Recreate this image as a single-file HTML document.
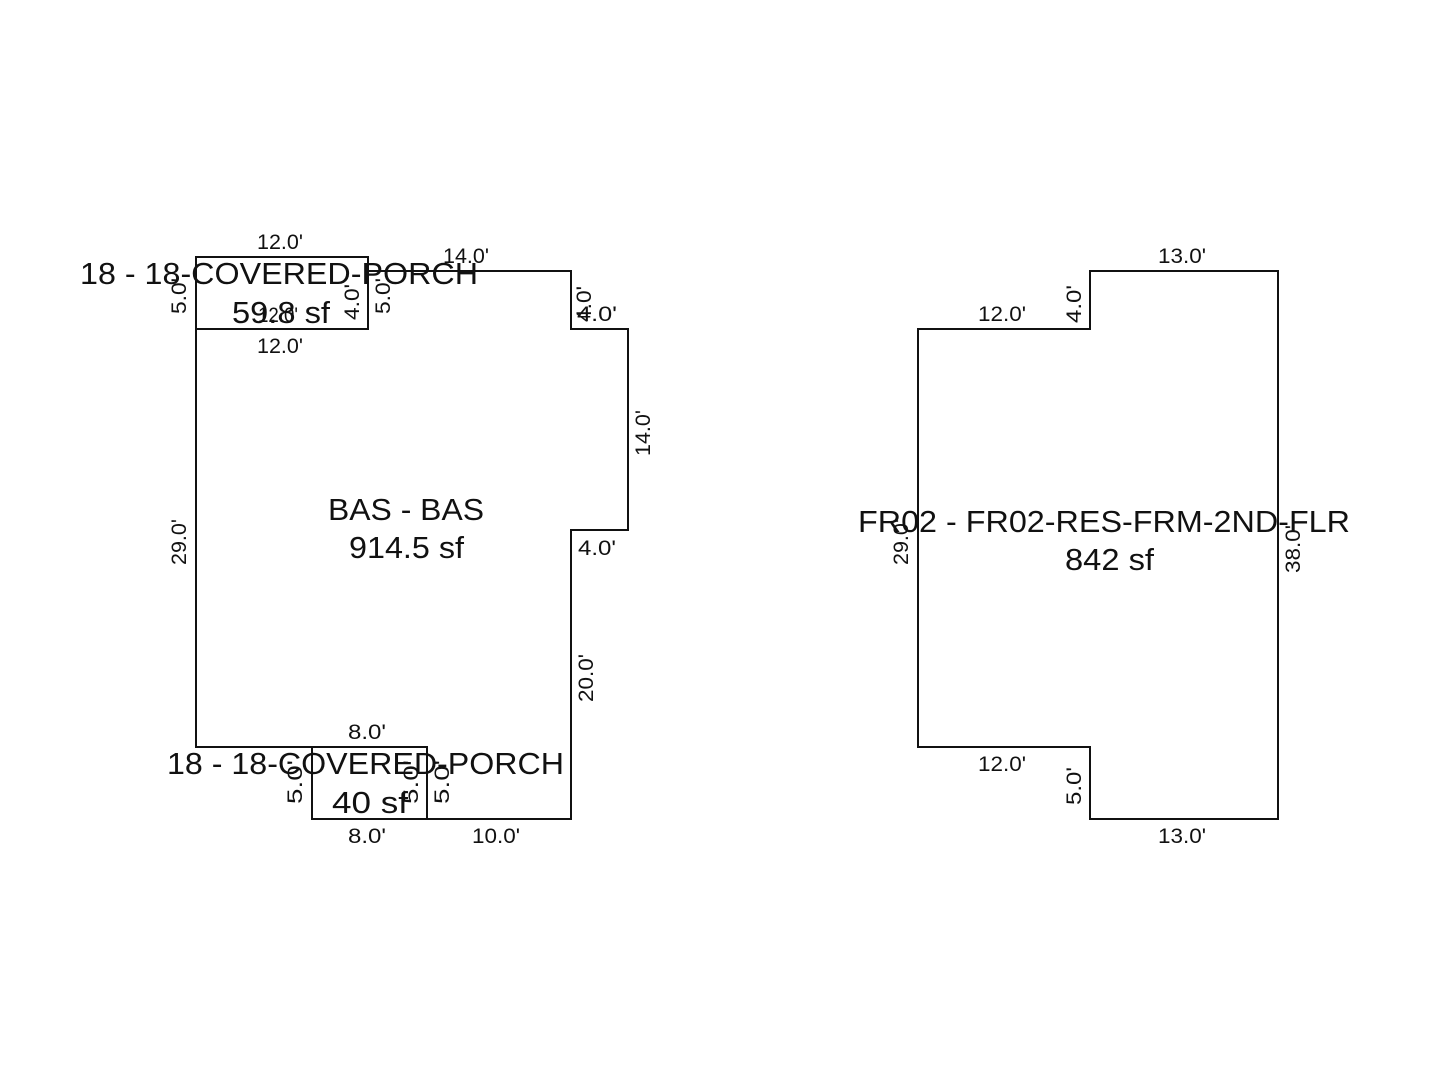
<!DOCTYPE html>
<html><head><meta charset="utf-8"><style>
html,body{margin:0;padding:0;background:#fff;}
svg{display:block;font-family:"Liberation Sans",Arial,sans-serif;fill:#111;}
.d{font-size:21px;}
.m{font-size:31px;}
</style></head><body>
<svg width="1440" height="1080" viewBox="0 0 1440 1080">
<g fill="none" stroke="#111" stroke-width="2">
<polyline points="368,271 571,271 571,329 628,329 628,530 571,530 571,819 427,819"/>
<polyline points="196,329 196,747 427,747"/>
<rect x="196" y="257" width="172" height="72"/>
<rect x="312" y="747" width="115" height="72"/>
<polygon points="918,329 1090,329 1090,271 1278,271 1278,819 1090,819 1090,747 918,747"/>
</g>
<g class="d" lengthAdjust="spacingAndGlyphs">
<text lengthAdjust="spacingAndGlyphs" x="257" y="249" textLength="46">12.0'</text>
<text lengthAdjust="spacingAndGlyphs" x="443" y="263" textLength="46">14.0'</text>
<text lengthAdjust="spacingAndGlyphs" x="257" y="353" textLength="46">12.0'</text>
<text lengthAdjust="spacingAndGlyphs" x="258" y="322" textLength="40">12.0'</text>
<text lengthAdjust="spacingAndGlyphs" x="577" y="321" textLength="40">4.0'</text>
<text lengthAdjust="spacingAndGlyphs" x="578" y="555" textLength="38">4.0'</text>
<text lengthAdjust="spacingAndGlyphs" x="348" y="739" textLength="38">8.0'</text>
<text lengthAdjust="spacingAndGlyphs" x="348" y="843" textLength="38">8.0'</text>
<text lengthAdjust="spacingAndGlyphs" x="472" y="843" textLength="48">10.0'</text>
<text lengthAdjust="spacingAndGlyphs" x="978" y="321" textLength="48">12.0'</text>
<text lengthAdjust="spacingAndGlyphs" x="1158" y="263" textLength="48">13.0'</text>
<text lengthAdjust="spacingAndGlyphs" x="978" y="771" textLength="48">12.0'</text>
<text lengthAdjust="spacingAndGlyphs" x="1158" y="843" textLength="48">13.0'</text>
<text lengthAdjust="spacingAndGlyphs" transform="translate(186,314) rotate(-90)" textLength="36">5.0'</text>
<text lengthAdjust="spacingAndGlyphs" transform="translate(359,320) rotate(-90)" textLength="36">4.0'</text>
<text lengthAdjust="spacingAndGlyphs" transform="translate(390,314) rotate(-90)" textLength="36">5.0'</text>
<text lengthAdjust="spacingAndGlyphs" transform="translate(591,322) rotate(-90)" textLength="36">4.0'</text>
<text lengthAdjust="spacingAndGlyphs" transform="translate(650,456) rotate(-90)" textLength="46">14.0'</text>
<text lengthAdjust="spacingAndGlyphs" transform="translate(186,565) rotate(-90)" textLength="46">29.0'</text>
<text lengthAdjust="spacingAndGlyphs" transform="translate(593,702) rotate(-90)" textLength="48">20.0'</text>
<text lengthAdjust="spacingAndGlyphs" transform="translate(302,804) rotate(-90)" textLength="44">5.0'</text>
<text lengthAdjust="spacingAndGlyphs" transform="translate(418,804) rotate(-90)" textLength="44">5.0'</text>
<text lengthAdjust="spacingAndGlyphs" transform="translate(449,804) rotate(-90)" textLength="44">5.0'</text>
<text lengthAdjust="spacingAndGlyphs" transform="translate(1081,323) rotate(-90)" textLength="38">4.0'</text>
<text lengthAdjust="spacingAndGlyphs" transform="translate(908,565) rotate(-90)" textLength="46">29.0'</text>
<text lengthAdjust="spacingAndGlyphs" transform="translate(1300,573) rotate(-90)" textLength="48">38.0'</text>
<text lengthAdjust="spacingAndGlyphs" transform="translate(1081,805) rotate(-90)" textLength="38">5.0'</text>
</g>
<g class="m">
<text lengthAdjust="spacingAndGlyphs" x="80" y="284" textLength="398">18 - 18-COVERED-PORCH</text>
<text lengthAdjust="spacingAndGlyphs" x="232" y="323" textLength="98">59.8 sf</text>
<text lengthAdjust="spacingAndGlyphs" x="328" y="520" textLength="156">BAS - BAS</text>
<text lengthAdjust="spacingAndGlyphs" x="349" y="558" textLength="115">914.5 sf</text>
<text lengthAdjust="spacingAndGlyphs" x="167" y="774" textLength="397">18 - 18-COVERED-PORCH</text>
<text lengthAdjust="spacingAndGlyphs" x="332" y="813" textLength="76">40 sf</text>
<text lengthAdjust="spacingAndGlyphs" x="858" y="532" textLength="492">FR02 - FR02-RES-FRM-2ND-FLR</text>
<text lengthAdjust="spacingAndGlyphs" x="1065" y="570" textLength="89">842 sf</text>
</g>
</svg>
</body></html>
